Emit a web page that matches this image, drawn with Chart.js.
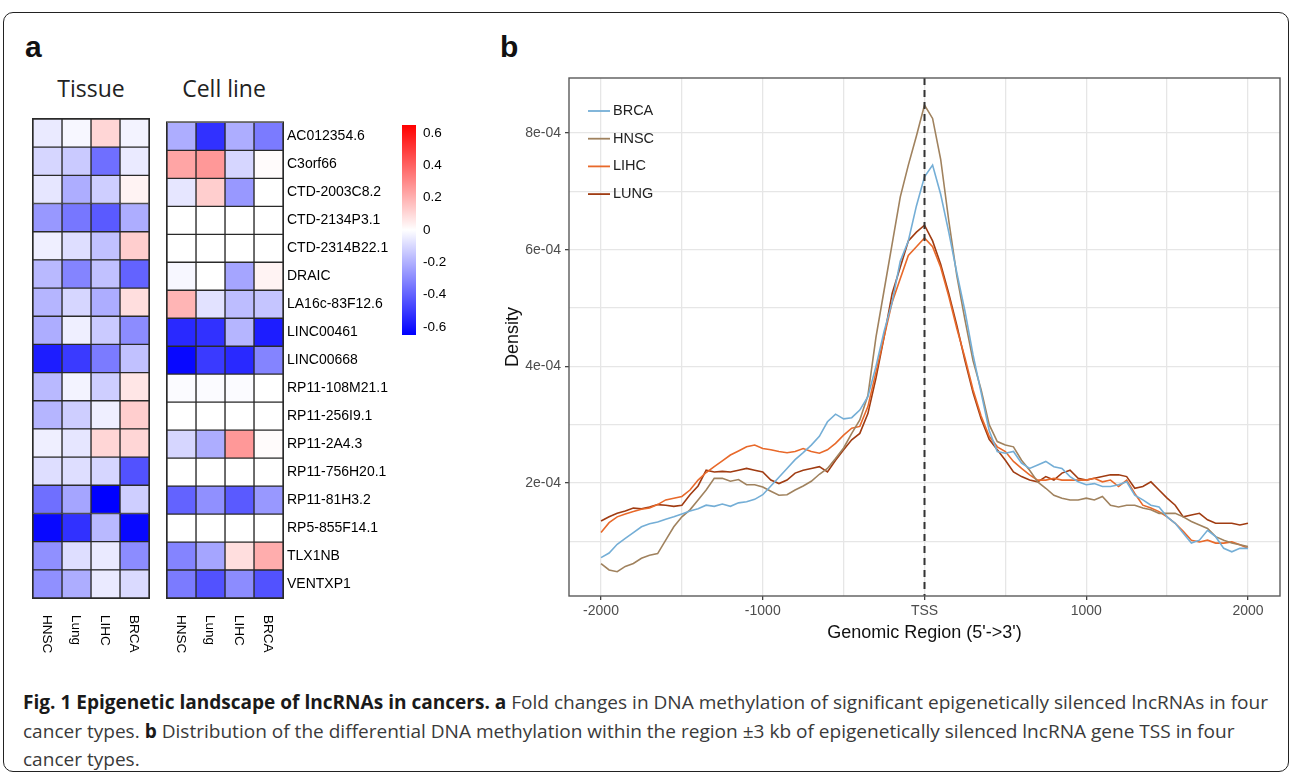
<!DOCTYPE html>
<html><head><meta charset="utf-8">
<script src="https://cdn.jsdelivr.net/npm/chart.js@4.4.1/dist/chart.umd.min.js"></script>
<style>
html,body{margin:0;padding:0;background:#fff;width:1290px;height:778px;overflow:hidden;}
body{position:relative;font-family:'Liberation Sans',Arial,sans-serif;}
canvas{position:absolute;}
#frame{position:absolute;left:3px;top:12px;width:1286px;height:760px;border:1.5px solid #222;border-radius:10px;box-sizing:border-box;}
.panel{position:absolute;font-weight:bold;font-size:30px;line-height:30px;color:#111;}
.hm-title{position:absolute;font-family:'Open Sans',sans-serif;font-size:23px;line-height:23px;color:#222;transform:translateX(-50%);white-space:nowrap;}
#caption{position:absolute;left:23px;top:688px;font-family:'Open Sans',sans-serif;font-size:19px;line-height:28.5px;color:#3a3a3a;white-space:nowrap;transform-origin:0 0;}
#caption b{color:#1a1a1a;}
</style></head>
<body>
<div id="frame"></div>
<div class="panel" style="left:25px;top:32px;">a</div>
<div class="panel" style="left:500px;top:32px;">b</div>
<div class="hm-title" style="left:91px;top:77px;">Tissue</div>
<div class="hm-title" style="left:224px;top:77px;">Cell line</div>

<canvas id="tissue" width="140" height="560" style="left:20px;top:110px;"></canvas>
<canvas id="cell" width="265" height="560" style="left:155px;top:110px;"></canvas>
<canvas id="cbar" width="70" height="240" style="left:395px;top:110px;"></canvas>
<canvas id="dens" width="790" height="600" style="left:500px;top:60px;"></canvas>

<div id="caption">
<div id="cl1"><b>Fig. 1 Epigenetic landscape of lncRNAs in cancers. a</b> Fold changes in DNA methylation of significant epigenetically silenced lncRNAs in four</div>
<div>cancer types. <b>b</b> Distribution of the differential DNA methylation within the region ±3 kb of epigenetically silenced lncRNA gene TSS in four</div>
<div>cancer types.</div>
</div>

<script>
// ---------------- DATA ----------------
const genes = ['AC012354.6','C3orf66','CTD-2003C8.2','CTD-2134P3.1','CTD-2314B22.1','DRAIC','LA16c-83F12.6','LINC00461','LINC00668','RP11-108M21.1','RP11-256I9.1','RP11-2A4.3','RP11-756H20.1','RP11-81H3.2','RP5-855F14.1','TLX1NB','VENTXP1'];
const cancerCols = ['HNSC','Lung','LIHC','BRCA'];

// methylation fold change, tissue
const tissueHNSC = [-0.05,-0.10,-0.06,-0.25,-0.04,-0.17,-0.18,-0.20,-0.55,-0.17,-0.18,-0.04,-0.08,-0.35,-0.60,-0.27,-0.27];
const tissueLung = [-0.02,-0.13,-0.20,-0.33,-0.08,-0.30,-0.10,-0.04,-0.48,-0.03,-0.12,-0.06,-0.08,-0.22,-0.50,-0.08,-0.20];
const tissueLIHC = [0.10,-0.35,-0.12,-0.40,-0.15,-0.15,-0.20,-0.13,-0.32,-0.12,-0.04,0.10,-0.10,-0.62,-0.17,-0.05,-0.05];
const tissueBRCA = [-0.03,-0.05,0.03,-0.20,0.12,-0.38,0.08,-0.28,-0.15,0.06,0.12,0.10,-0.42,-0.12,-0.60,-0.28,-0.09];
// methylation fold change, cell line
const cellHNSC = [-0.20,0.22,-0.06,0,0,-0.02,0.18,-0.52,-0.60,-0.01,0,-0.10,0,-0.38,0,-0.30,-0.32];
const cellLung = [-0.50,0.25,0.12,0,0,0,-0.07,-0.50,-0.48,-0.01,0,-0.20,0,-0.27,0,-0.22,-0.42];
const cellLIHC = [-0.20,-0.10,-0.25,0,0,-0.22,-0.16,-0.18,-0.52,-0.01,0,0.25,0,-0.40,0,0.08,-0.28];
const cellBRCA = [-0.32,0.01,0,0,0,0.03,-0.14,-0.55,-0.30,0,0,0.01,0,-0.25,0,0.20,-0.42];

const colorbarTicks = [-0.6,-0.4,-0.2,0,0.2,0.4,0.6];

// density panel (values in units of 1e-4)
const positions = [-2000,-1950,-1900,-1850,-1800,-1750,-1700,-1650,-1600,-1550,-1500,-1450,-1400,-1350,-1300,-1250,-1200,-1150,-1100,-1050,-1000,-950,-900,-850,-800,-750,-700,-650,-600,-550,-500,-450,-400,-350,-300,-250,-200,-150,-100,-50,0,50,100,150,200,250,300,350,400,450,500,550,600,650,700,750,800,850,900,950,1000,1050,1100,1150,1200,1250,1300,1350,1400,1450,1500,1550,1600,1650,1700,1750,1800,1850,1900,1950,2000];
const densityBRCA = [0.72,0.80,0.95,1.05,1.15,1.25,1.30,1.33,1.38,1.42,1.47,1.52,1.56,1.62,1.60,1.64,1.60,1.66,1.68,1.72,1.80,1.95,2.10,2.25,2.40,2.52,2.65,2.80,3.05,3.18,3.10,3.12,3.25,3.48,4.00,4.60,5.10,5.80,6.15,6.75,7.25,7.45,6.95,6.30,5.60,4.95,4.20,3.55,2.90,2.54,2.51,2.54,2.34,2.25,2.31,2.37,2.28,2.25,2.11,2.02,1.97,1.99,1.94,1.94,1.97,2.02,1.79,1.71,1.62,1.59,1.42,1.31,1.14,0.97,1.02,1.19,1.08,0.88,0.82,0.88,0.88];
const densityHNSC = [0.62,0.51,0.48,0.57,0.62,0.71,0.76,0.79,1.02,1.25,1.42,1.54,1.71,1.88,2.08,2.08,2.03,2.06,1.97,1.97,1.93,1.86,1.79,1.80,1.88,1.95,2.03,2.15,2.25,2.42,2.60,2.85,3.08,3.50,4.50,5.30,6.10,6.90,7.45,7.95,8.48,8.25,7.55,6.50,5.55,4.80,4.10,3.60,3.00,2.71,2.65,2.62,2.39,2.22,2.02,1.91,1.79,1.74,1.71,1.71,1.74,1.71,1.77,1.62,1.59,1.62,1.62,1.57,1.54,1.48,1.48,1.48,1.42,1.34,1.28,1.22,1.08,1.02,0.97,0.94,0.91];
const densityLIHC = [1.15,1.32,1.42,1.47,1.51,1.55,1.57,1.63,1.71,1.74,1.77,1.88,2.05,2.18,2.28,2.38,2.48,2.55,2.62,2.65,2.59,2.57,2.54,2.52,2.54,2.59,2.54,2.51,2.57,2.68,2.82,2.94,2.97,3.31,3.90,4.50,5.10,5.50,5.90,6.05,6.20,6.05,5.70,5.20,4.65,4.15,3.60,3.15,2.80,2.62,2.54,2.37,2.25,2.14,2.05,2.05,2.08,2.05,2.05,2.05,2.05,2.08,2.02,2.05,1.94,2.05,1.82,1.62,1.57,1.51,1.42,1.31,1.17,1.02,0.99,1.02,0.97,0.97,0.99,0.94,0.88];
const densityLUNG = [1.35,1.42,1.48,1.52,1.57,1.56,1.59,1.63,1.62,1.60,1.62,1.80,1.95,2.22,2.19,2.20,2.19,2.22,2.25,2.22,2.19,2.05,1.99,2.05,2.17,2.22,2.25,2.28,2.19,2.39,2.57,2.74,2.85,3.19,3.80,4.50,5.25,5.70,6.15,6.30,6.42,6.15,5.75,5.25,4.70,4.10,3.55,3.10,2.75,2.57,2.39,2.19,2.11,2.05,2.02,2.11,2.05,2.17,2.22,2.08,2.05,2.08,2.11,2.14,2.14,2.11,1.91,1.94,2.02,1.88,1.74,1.62,1.42,1.45,1.48,1.37,1.31,1.31,1.31,1.28,1.31];
const seriesNames = ['BRCA','HNSC','LIHC','LUNG'];
const seriesColors = ['#74aed6','#a0825e','#e8692a','#a03c12'];
const xTickValues = [-2000,-1500,-1000,-500,0,500,1000,1500,2000];
const yTickValues = [1,2,3,4,5,6,7,8];

// ---------------- HELPERS ----------------
const FONT = "'Liberation Sans', Arial, sans-serif";
Chart.defaults.font.family = FONT;

function valueColor(v){
  const t = Math.min(1, Math.abs(v)/0.62);
  const c = Math.round(255*(1-t));
  return v < 0 ? `rgb(${c},${c},255)` : `rgb(255,${c},${c})`;
}

const heatPlugin = {
  id:'heatDecor',
  afterDraw(chart){
    const {ctx, chartArea:ca, scales} = chart;
    ctx.save();
    ctx.strokeStyle = '#2a2a2a'; ctx.lineWidth = 1;
    ctx.strokeRect(ca.left-0.5, ca.top-0.5, ca.right-ca.left+1, ca.bottom-ca.top+1);
    ctx.fillStyle = '#000';
    ctx.font = `13.5px ${FONT}`;
    ctx.textAlign = 'left'; ctx.textBaseline = 'middle';
    cancerCols.forEach((c,j)=>{
      const x = scales.x.getPixelForValue(j+0.5) - 1;
      ctx.save();
      ctx.translate(x, ca.bottom + 17);
      ctx.rotate(Math.PI/2);
      ctx.fillText(c, 0, 0);
      ctx.restore();
    });
    ctx.restore();
  }
};

function heatmap(id, columns, showGenes, pad){
  return new Chart(document.getElementById(id), {
    type:'bar',
    data:{
      labels: genes,
      datasets: columns.map((vals,j)=>({
        label: cancerCols[j],
        data: vals.map(()=>1),
        backgroundColor: vals.map(valueColor),
        borderColor:'#2a2a2a', borderWidth:1, borderSkipped:false,
        barPercentage:1, categoryPercentage:1
      }))
    },
    options:{
      indexAxis:'y', responsive:false, animation:false, events:[],
      layout:{padding:pad},
      plugins:{legend:{display:false}, tooltip:{enabled:false}},
      scales:{
        x:{stacked:true, min:0, max:4, display:false},
        y:{stacked:true, display:showGenes, position:'right',
           grid:{display:false, drawTicks:false}, border:{display:false},
           ticks:{padding:4, color:'#000', font:{size:14}, autoSkip:false},
           afterFit(s){ if (showGenes) s.width = 132; }}
      }
    },
    plugins:[heatPlugin]
  });
}

heatmap('tissue', [tissueHNSC, tissueLung, tissueLIHC, tissueBRCA], false, {left:13, top:9, right:11, bottom:72});
heatmap('cell', [cellHNSC, cellLung, cellLIHC, cellBRCA], true, {left:12, top:9, right:5, bottom:72});

// colour bar
new Chart(document.getElementById('cbar'), {
  type:'bar',
  data:{labels:[''], datasets:[{
    data:[[-0.65,0.65]],
    backgroundColor(ctx){
      const ch = ctx.chart; if(!ch.chartArea) return '#fff';
      const y = ch.scales.y;
      const g = ch.ctx.createLinearGradient(0, y.getPixelForValue(-0.65), 0, y.getPixelForValue(0.65));
      g.addColorStop(0, valueColor(-0.65));
      g.addColorStop(0.5, valueColor(0));
      g.addColorStop(1, valueColor(0.65));
      return g;
    },
    borderWidth:0, barPercentage:1, categoryPercentage:1
  }]},
  options:{
    responsive:false, animation:false, events:[],
    layout:{padding:{left:7, top:9, right:0, bottom:15}},
    plugins:{legend:{display:false}, tooltip:{enabled:false}},
    scales:{
      x:{display:false},
      y:{min:-0.65, max:0.65, position:'right',
         afterBuildTicks(s){ s.ticks = colorbarTicks.map(v=>({value:v})); },
         ticks:{padding:7, color:'#000', font:{size:13.5}, callback:(v)=>String(v)},
         grid:{display:false, drawTicks:false}, border:{display:false},
         afterFit(s){ s.width = 49; }}
    }
  }
});

// density chart
const densPlugin = {
  id:'densDecor',
  afterDatasetsDraw(chart){
    const {ctx, chartArea:ca, scales} = chart;
    const x0 = scales.x.getPixelForValue(0);
    ctx.save();
    ctx.strokeStyle = '#333'; ctx.lineWidth = 2; ctx.setLineDash([7,5]);
    ctx.beginPath(); ctx.moveTo(x0, ca.top); ctx.lineTo(x0, ca.bottom); ctx.stroke();
    ctx.restore();
  },
  afterDraw(chart){
    const {ctx, chartArea:ca} = chart;
    ctx.save();
    ctx.strokeStyle = '#5a5a5a'; ctx.lineWidth = 1.4;
    ctx.strokeRect(ca.left, ca.top, ca.right-ca.left, ca.bottom-ca.top);
    ctx.font = `14.5px ${FONT}`; ctx.textBaseline = 'middle'; ctx.textAlign='left';
    chart.data.datasets.forEach((ds,i)=>{
      const y = ca.top + 33 + i*27.7;
      ctx.strokeStyle = ds.borderColor; ctx.lineWidth = 1.8;
      ctx.beginPath(); ctx.moveTo(ca.left+19, y); ctx.lineTo(ca.left+41, y); ctx.stroke();
      ctx.fillStyle = '#222';
      ctx.fillText(ds.label, ca.left+44, y);
    });
    ctx.restore();
  }
};

const densSeries = [densityBRCA, densityHNSC, densityLIHC, densityLUNG];
new Chart(document.getElementById('dens'), {
  type:'line',
  data:{
    datasets: densSeries.map((vals,i)=>({
      label: seriesNames[i],
      data: positions.map((p,k)=>({x:p, y:vals[k]})),
      borderColor: seriesColors[i], borderWidth:1.6,
      pointRadius:0, tension:0, fill:false
    }))
  },
  options:{
    responsive:false, animation:false, events:[],
    layout:{padding:{left:0, top:18, right:10, bottom:0}},
    plugins:{legend:{display:false}, tooltip:{enabled:false}},
    scales:{
      x:{type:'linear', min:-2198, max:2198,
         afterBuildTicks(s){ s.ticks = xTickValues.map(v=>({value:v})); },
         ticks:{autoSkip:false, maxRotation:0, padding:3, color:'#4d4d4d', font:{size:14},
                callback:(v)=> v===0 ? 'TSS' : (v%1000===0 ? String(v) : '')},
         grid:{color:'#e6e6e6', lineWidth:1.3, tickLength:4,
               tickColor:(c)=> (c.tick && c.tick.value%1000===0) ? '#444' : 'rgba(0,0,0,0)'},
         border:{display:false},
         title:{display:true, text:"Genomic Region (5'->3')", color:'#111', font:{size:18}, padding:{top:0,bottom:16}},
         afterFit(s){ s.height = 64; }},
      y:{type:'linear', min:0.063, max:8.943,
         afterBuildTicks(s){ s.ticks = yTickValues.map(v=>({value:v})); },
         ticks:{autoSkip:false, padding:4, color:'#4d4d4d', font:{size:14},
                callback:(v)=> v%2===0 ? v+'e-04' : ''},
         grid:{color:'#e6e6e6', lineWidth:1.3, tickLength:4,
               tickColor:(c)=> (c.tick && c.tick.value%2===0) ? '#444' : 'rgba(0,0,0,0)'},
         border:{display:false},
         title:{display:true, text:'Density', color:'#111', font:{size:18}, padding:{top:2,bottom:0}},
         afterFit(s){ s.width = 69; }}
    }
  },
  plugins:[densPlugin]
});

// fit caption width to reference line length
(function(){
  const cap = document.getElementById('caption');
  const l1 = document.getElementById('cl1');
  const r = document.createRange(); r.selectNodeContents(l1);
  const w = r.getBoundingClientRect().width;
  if (w > 0) cap.style.transform = `scaleX(${1245/w})`;
})();
</script>
</body></html>
